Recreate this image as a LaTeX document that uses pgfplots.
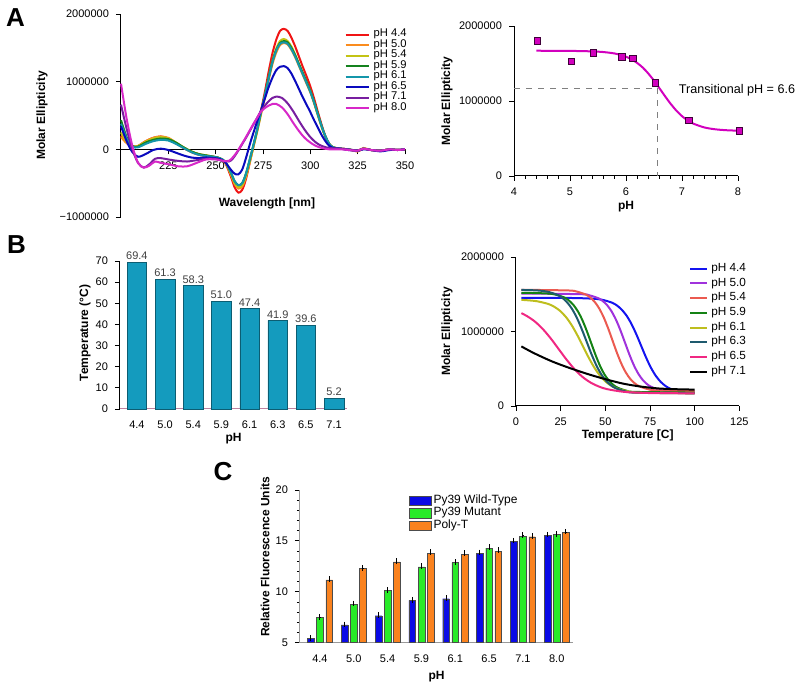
\documentclass[border=0pt]{standalone}
\usepackage{fontspec}
\setmainfont{Liberation Sans}
\usepackage{pgfplots}
\usepackage{pgfplotstable}
\pgfplotsset{compat=1.18}

\definecolor{cRed}{RGB}{240,20,20}
\definecolor{cOrange}{RGB}{250,140,30}
\definecolor{cYellow}{RGB}{195,195,20}
\definecolor{cGreen}{RGB}{20,130,30}
\definecolor{cTeal}{RGB}{20,150,170}
\definecolor{cBlue}{RGB}{10,10,190}
\definecolor{cPurple}{RGB}{120,30,160}
\definecolor{cPink}{RGB}{215,40,200}
\definecolor{mag}{RGB}{210,0,190}
\definecolor{barteal}{RGB}{20,155,190}
\definecolor{axpink}{RGB}{190,130,160}
\definecolor{bBlue}{RGB}{20,20,240}
\definecolor{bPurple}{RGB}{160,50,220}
\definecolor{bRed}{RGB}{235,90,80}
\definecolor{bGreen}{RGB}{20,130,20}
\definecolor{bYellow}{RGB}{190,190,30}
\definecolor{bTeal}{RGB}{30,90,110}
\definecolor{bPink}{RGB}{240,40,130}
\definecolor{wBlue}{RGB}{10,10,230}
\definecolor{wGreen}{RGB}{40,235,40}
\definecolor{wOrange}{RGB}{250,130,30}

\newcommand{\tk}{\fontsize{5.5}{6.5}\selectfont}
\newcommand{\lb}{\bfseries\fontsize{6}{7}\selectfont}

\pgfplotsset{
  myax/.style={scale only axis, anchor=south west, font=\tk,
    /pgf/number format/assume math mode=true,
    axis line style={line width=0.5pt},
    tick style={line width=0.4pt, black},
    major tick length=2.5pt, minor tick length=1.5pt, tick align=outside,
    label style={font=\lb}, clip=false},
}

\pgfplotstableread{
x r o yl g t b
200 0.20 0.18 0.25 0.43 0.38 0.34
203 0.10 0.09 0.11 0.18 0.16 0.12
206 0.04 0.04 0.04 0.05 0.04 -0.04
209 0.05 0.05 0.05 0.04 0.03 -0.11
213 0.12 0.12 0.11 0.10 0.08 -0.07
217 0.17 0.17 0.16 0.14 0.12 -0.01
221 0.19 0.19 0.18 0.16 0.14 0.01
225 0.16 0.17 0.16 0.15 0.13 -0.01
229 0.09 0.10 0.10 0.10 0.08 -0.05
233 0.02 0.03 0.03 0.03 0.02 -0.09
237 -0.04 -0.03 -0.03 -0.03 -0.04 -0.12
241 -0.08 -0.07 -0.07 -0.07 -0.08 -0.13
245 -0.10 -0.09 -0.09 -0.09 -0.10 -0.12
249 -0.11 -0.11 -0.11 -0.11 -0.11 -0.13
252 -0.13 -0.13 -0.13 -0.13 -0.13 -0.14
255 -0.20 -0.19 -0.19 -0.18 -0.18 -0.19
258 -0.40 -0.37 -0.36 -0.34 -0.34 -0.30
260 -0.56 -0.51 -0.50 -0.47 -0.47 -0.36
262 -0.64 -0.58 -0.56 -0.53 -0.53 -0.37
264 -0.60 -0.55 -0.53 -0.50 -0.50 -0.30
266 -0.44 -0.41 -0.39 -0.36 -0.36 -0.13
268 -0.20 -0.19 -0.18 -0.15 -0.15 0.07
270 0.05 0.04 0.05 0.07 0.07 0.25
272 0.30 0.27 0.28 0.30 0.30 0.42
274 0.58 0.52 0.54 0.56 0.56 0.58
276 0.85 0.76 0.79 0.80 0.80 0.75
278 1.15 1.02 1.06 1.06 1.05 0.92
280 1.42 1.26 1.31 1.30 1.29 1.06
282 1.62 1.43 1.49 1.47 1.46 1.17
284 1.75 1.54 1.60 1.57 1.56 1.22
286 1.78 1.57 1.63 1.60 1.58 1.23
288 1.75 1.55 1.60 1.58 1.56 1.20
290 1.65 1.47 1.52 1.50 1.48 1.12
292 1.52 1.36 1.40 1.39 1.37 1.01
294 1.37 1.23 1.26 1.26 1.24 0.89
296 1.22 1.10 1.12 1.13 1.11 0.77
298 1.08 0.97 0.99 1.00 0.98 0.66
300 0.93 0.84 0.86 0.86 0.85 0.55
302 0.75 0.68 0.69 0.70 0.69 0.43
304 0.55 0.50 0.51 0.52 0.51 0.32
306 0.36 0.33 0.33 0.34 0.34 0.21
308 0.19 0.18 0.18 0.19 0.19 0.12
310 0.08 0.08 0.08 0.08 0.08 0.05
312 0.03 0.03 0.03 0.03 0.03 0.02
316 0.01 0.01 0.01 0.01 0.01 0.01
320 0.00 0.00 0.00 0.00 0.00 -0.01
325 -0.03 -0.02 -0.03 -0.02 -0.02 -0.02
328 0.01 0.02 0.01 0.01 0.01 0.00
332 -0.01 -0.01 -0.01 -0.01 -0.01 -0.01
337 -0.02 -0.02 -0.02 -0.02 -0.02 -0.03
342 0.00 0.00 0.00 0.00 0.00 -0.01
346 -0.01 -0.01 -0.01 -0.01 -0.01 -0.01
350 0.00 0.00 0.00 0.00 0.00 0.00
}\cdtable

\pgfplotstableread{
x p m
200 0.66 0.97
203 0.30 0.45
206 0.00 0.05
209 -0.20 -0.20
212 -0.27 -0.27
215 -0.22 -0.24
218 -0.14 -0.18
221 -0.13 -0.20
225 -0.15 -0.22
230 -0.17 -0.25
235 -0.18 -0.25
240 -0.16 -0.20
245 -0.14 -0.15
250 -0.14 -0.15
254 -0.17 -0.17
257 -0.18 -0.17
259 -0.14 -0.12
261 -0.06 -0.05
263 0.03 0.04
266 0.17 0.18
269 0.32 0.33
272 0.47 0.47
274 0.57 0.56
277 0.68 0.63
280 0.76 0.67
282 0.78 0.67
285 0.76 0.62
288 0.68 0.52
291 0.56 0.39
294 0.42 0.27
297 0.29 0.17
300 0.18 0.10
303 0.10 0.05
306 0.05 0.02
310 0.02 0.00
316 0.01 0.00
320 0.00 -0.01
325 -0.02 -0.02
328 0.01 0.01
332 -0.01 -0.01
337 -0.02 -0.02
342 0.00 0.00
346 -0.01 -0.01
350 0.00 0.00
}\cdtableb

\begin{document}
\begin{tikzpicture}
\path[use as bounding box] (0,0) rectangle (400pt,-344.5pt);

% ---------------- Panel A left
\begin{axis}[myax, at={(60.5pt,-108.5pt)}, width=142pt, height=101.5pt,
  xmin=200, xmax=350, ymin=-1, ymax=2,
  axis x line*=middle, axis y line*=left,
  xtick={225,250,...,350}, ytick={-1,0,1,2},
  yticklabels={−1000000,0,1000000,2000000},
  xlabel={Wavelength [nm]}, ylabel={Molar Ellipticity},
  xlabel style={at={(axis description cs:0.514,0.069)}, anchor=center},
  ylabel style={at={(axis description cs:-0.278,0.5)}, anchor=center},
  legend style={at={(axis description cs:0.765,0.946)}, anchor=north west,
    draw=none, fill=none, font=\fontsize{5.6}{6}\selectfont, column sep=2pt,
    nodes={inner sep=0pt, text height=3.8pt, text depth=1.45pt}},
  legend cell align=left,
  legend image code/.code={\draw[#1] (0pt,0pt) -- (11.5pt,0pt);},
  every axis plot/.append style={line width=1pt, smooth, no markers}]
\addplot[cRed] table[x=x, y=r] {\cdtable}; \addlegendentry{pH 4.4}
\addplot[cOrange] table[x=x, y=o] {\cdtable}; \addlegendentry{pH 5.0}
\addplot[cYellow] table[x=x, y=yl] {\cdtable}; \addlegendentry{pH 5.4}
\addplot[cGreen] table[x=x, y=g] {\cdtable}; \addlegendentry{pH 5.9}
\addplot[cTeal] table[x=x, y=t] {\cdtable}; \addlegendentry{pH 6.1}
\addplot[cBlue] table[x=x, y=b] {\cdtable}; \addlegendentry{pH 6.5}
\addplot[cPurple] table[x=x, y=p] {\cdtableb}; \addlegendentry{pH 7.1}
\addplot[cPink] table[x=x, y=m] {\cdtableb}; \addlegendentry{pH 8.0}
\end{axis}

% ---------------- Panel A right
\begin{axis}[myax, at={(257pt,-88pt)}, width=112pt, height=75pt,
  xmin=4, xmax=8, ymin=0, ymax=2,
  axis x line*=bottom, axis y line*=left,
  xtick={4,...,8}, minor x tick num=4, ytick={0,1,2},
  yticklabels={0,1000000,2000000},
  xlabel={pH}, ylabel={Molar Ellipticity},
  xlabel style={at={(axis description cs:0.5,-0.205)}, anchor=center},
  ylabel style={at={(axis description cs:-0.299,0.5)}, anchor=center}]
\addplot[gray, dashed, line width=0.5pt] coordinates {(4,1.17) (6.57,1.17) (6.57,0)};
\addplot[mag, line width=1pt, smooth, no markers] coordinates {
(4.4,1.670) (5.0,1.668) (5.5,1.658) (5.8,1.633) (6.0,1.590) (6.1,1.555) (6.2,1.507)
(6.3,1.445) (6.4,1.365) (6.5,1.271) (6.6,1.167) (6.7,1.061) (6.8,0.960) (6.9,0.871)
(7.0,0.798) (7.1,0.742) (7.2,0.699) (7.4,0.647) (7.6,0.622) (7.8,0.610) (8.0,0.604)};
\addplot[only marks, mark=square*, mark size=1.6pt,
  mark options={fill=mag, draw=black!70!mag, line width=0.4pt}] coordinates {
(4.42,1.80) (5.02,1.53) (5.42,1.64) (5.93,1.59) (6.12,1.57) (6.53,1.24) (7.12,0.74) (8.02,0.60)};
\node[anchor=west, font=\fontsize{6.3}{7}\selectfont] at (axis cs:6.82,1.15) {Transitional pH = 6.6};
\end{axis}

% ---------------- Panel B left
\begin{axis}[myax, at={(60pt,-204.5pt)}, width=113.5pt, height=74pt,
  ybar, bar width=9.75pt, xmin=-0.6, xmax=7.46, ymin=0, ymax=70,
  axis x line*=bottom, axis y line*=left,
  x axis line style={color=axpink},
  xtick={0,...,7}, xticklabels={4.4,5.0,5.4,5.9,6.1,6.3,6.5,7.1},
  x tick style={draw=none},
  ytick={0,10,...,70},
  nodes near coords={\pgfmathprintnumber[fixed,fixed zerofill,precision=1]{\pgfplotspointmeta}},
  nodes near coords style={font=\tk, color=black!75, inner sep=1pt},
  xlabel={pH}, ylabel={Temperature (°C)},
  xlabel style={at={(axis description cs:0.5,-0.2)}, anchor=center},
  ylabel style={at={(axis description cs:-0.154,0.514)}, anchor=center}]
\addplot[fill=barteal, draw=barteal!60!black, line width=0.3pt] coordinates {
(0,69.4) (1,61.3) (2,58.3) (3,51.0) (4,47.4) (5,41.9) (6,39.6) (7,5.2)};
\end{axis}

% ---------------- Panel B right
\begin{axis}[myax, at={(258pt,-203pt)}, width=111.7pt, height=74.5pt,
  xmin=0, xmax=125, ymin=0, ymax=2,
  axis x line*=bottom, axis y line*=left,
  xtick={0,25,...,125}, ytick={0,1,2}, yticklabels={0,1000000,2000000},
  xlabel={Temperature [C]}, ylabel={Molar Ellipticity},
  xlabel style={at={(axis description cs:0.5,-0.2)}, anchor=center},
  ylabel style={at={(axis description cs:-0.309,0.5)}, anchor=center},
  legend style={at={(axis description cs:0.747,1.0)}, anchor=north west,
    draw=none, fill=none, font=\fontsize{5.9}{6}\selectfont, column sep=1.5pt,
    nodes={inner sep=0pt, text height=5pt, text depth=2.35pt}},
  legend cell align=left,
  legend image code/.code={\draw[#1] (0pt,0pt) -- (8.5pt,0pt);},
  every axis plot/.append style={line width=1pt, smooth, no markers}]
\addplot[bBlue] coordinates {(3,1.45) (30,1.45) (42.5,1.441) (48,1.427) (53.5,1.389) (56.25,1.353) (59,1.297) (61.75,1.217) (64.5,1.106) (67.25,0.967) (70,0.81) (72.75,0.653) (75.5,0.514) (78.25,0.404) (81,0.323) (83.75,0.267) (86.5,0.231) (92,0.193) (97.5,0.179) (100,0.175)};
\addlegendentry{pH 4.4}
\addplot[bPurple] coordinates {(3,1.51) (36,1.501) (41,1.486) (46,1.447) (48.5,1.41) (51,1.353) (53.5,1.269) (56,1.155) (58.5,1.012) (61,0.85) (63.5,0.688) (66,0.545) (68.5,0.431) (71,0.347) (73.5,0.29) (76,0.253) (81,0.214) (86,0.199) (100,0.19)};
\addlegendentry{pH 5.0}
\addplot[bRed] coordinates {(3,1.56) (29,1.551) (34,1.536) (39,1.496) (41.5,1.457) (44,1.398) (46.5,1.312) (49,1.194) (51.5,1.047) (54,0.88) (56.5,0.713) (59,0.566) (61.5,0.448) (64,0.362) (66.5,0.303) (69,0.265) (74,0.225) (79,0.209) (100,0.20)};
\addlegendentry{pH 5.4}
\addplot[bGreen] coordinates {(3,1.52) (17,1.511) (22,1.496) (27,1.457) (29.5,1.418) (32,1.36) (34.5,1.276) (37,1.16) (39.5,1.014) (42,0.85) (44.5,0.686) (47,0.540) (49.5,0.424) (52,0.340) (54.5,0.282) (57,0.244) (62,0.204) (67,0.189) (100,0.18)};
\addlegendentry{pH 5.9}
\addplot[bYellow] coordinates {(3,1.424) (5,1.422) (11.5,1.407) (18,1.370) (21.25,1.334) (24.5,1.280) (27.75,1.200) (31,1.091) (34.25,0.954) (37.5,0.80) (40.75,0.646) (44,0.509) (47.25,0.400) (50.5,0.320) (53.75,0.266) (57,0.230) (63.5,0.193) (70,0.178) (100,0.17)};
\addlegendentry{pH 6.1}
\addplot[bTeal] coordinates {(3,1.558) (12,1.551) (17.5,1.535) (23,1.494) (25.75,1.455) (28.5,1.394) (31.25,1.307) (34,1.186) (36.75,1.035) (39.5,0.865) (42.25,0.695) (45,0.544) (47.75,0.424) (50.5,0.336) (53.25,0.276) (56,0.236) (61.5,0.195) (67,0.179) (100,0.17)};
\addlegendentry{pH 6.3}
\addplot[bPink] coordinates {(3,1.246) (6,1.209) (10.5,1.135) (15,1.033) (19.5,0.905) (24,0.76) (28.5,0.616) (33,0.487) (37.5,0.385) (42,0.311) (46.5,0.260) (51,0.226) (60,0.191) (69,0.178) (78,0.173) (100,0.17)};
\addlegendentry{pH 6.5}
\addplot[black] coordinates {(3,0.80) (10,0.71) (20,0.60) (30,0.51) (40,0.43) (50,0.36) (60,0.30) (70,0.26) (80,0.235) (90,0.225) (100,0.22)};
\addlegendentry{pH 7.1}
\end{axis}

% ---------------- Panel C
\begin{axis}[myax, at={(150pt,-321.35pt)}, width=136.65pt, height=76.35pt,
  ybar=1.25pt, bar width=3.35pt, xmin=-0.59, xmax=7.49, ymin=5, ymax=20,
  axis x line*=bottom, axis y line*=left,
  axis line style={color=gray!80},
  xtick={0,...,7}, xticklabels={4.4,5.0,5.4,5.9,6.1,6.5,7.1,8.0},
  x tick style={draw=none},
  ytick={5,10,15,20}, minor y tick num=4,
  xlabel={pH}, ylabel={Relative Fluorescence Units},
  xlabel style={at={(axis description cs:0.5,-0.225)}, anchor=center},
  ylabel style={at={(axis description cs:-0.128,0.563)}, anchor=center},
  legend style={at={(axis description cs:0.376,1.0)}, anchor=north west,
    draw=none, fill=none, font=\fontsize{6}{6}\selectfont, column sep=1pt,
    nodes={inner sep=0pt, text height=4.5pt, text depth=1.75pt}},
  legend cell align=left,
  legend image code/.code={\draw[#1] (0pt,-2.4pt) rectangle (11pt,2.4pt);},
  error bars/y dir=plus, error bars/y explicit,
  error bars/error bar style={black, line width=0.4pt},
  error bars/error mark options={mark size=1.4pt, line width=0.5pt, black}]
\addplot[fill=wBlue, draw=black!70, line width=0.2pt] coordinates {
(0,5.43) +- (0,0.06) (1,6.74) +- (0,0.06) (2,7.65) +- (0,0.06) (3,9.16) +- (0,0.06)
(4,9.32) +- (0,0.06) (5,13.81) +- (0,0.06) (6,14.96) +- (0,0.06) (7,15.55) +- (0,0.06)};
\addlegendentry{Py39 Wild-Type}
\addplot[fill=wGreen, draw=black!70, line width=0.2pt] coordinates {
(0,7.46) +- (0,0.08) (1,8.77) +- (0,0.08) (2,10.11) +- (0,0.08) (3,12.44) +- (0,0.1)
(4,12.86) +- (0,0.08) (5,14.30) +- (0,0.08) (6,15.48) +- (0,0.1) (7,15.61) +- (0,0.08)};
\addlegendentry{Py39 Mutant}
\addplot[fill=wOrange, draw=black!70, line width=0.2pt] coordinates {
(0,11.16) +- (0,0.08) (1,12.27) +- (0,0.08) (2,12.93) +- (0,0.08) (3,13.78) +- (0,0.12)
(4,13.71) +- (0,0.08) (5,14.00) +- (0,0.08) (6,15.41) +- (0,0.08) (7,15.81) +- (0,0.1)};
\addlegendentry{Poly-T}
\end{axis}

\node[font=\bfseries\fontsize{13}{13}\selectfont] at (7.75pt,-8.75pt) {A};
\node[font=\bfseries\fontsize{13}{13}\selectfont] at (8.25pt,-122.5pt) {B};
\node[font=\bfseries\fontsize{13}{13}\selectfont] at (111.5pt,-236pt) {C};
\end{tikzpicture}
\end{document}
